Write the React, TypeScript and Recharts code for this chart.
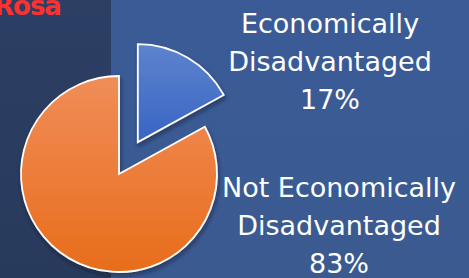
import React from "react";
import { PieChart, Pie, Cell, Sector } from "recharts";

const categories = ["Not Economically Disadvantaged", "Economically Disadvantaged"];
const shares = [83, 17];
const fills = ["url(#gOrange)", "url(#gBlue)"];
const exploded = [false, true];

const data = categories.map((name, i) => ({ name, value: shares[i] }));

const RAD = Math.PI / 180;

const SliceShape = (props: any) => {
  const { cx, cy, midAngle, index } = props;
  const off = exploded[index] ? 37 : 0;
  const dx = off * Math.cos(-midAngle * RAD);
  const dy = off * Math.sin(-midAngle * RAD);
  return <Sector {...props} cx={cx + dx} cy={cy + dy} />;
};

const SliceLabel = ({ cx, cy, index, name, value }: any) => {
  const words = name.split(" ");
  const lines = [words.slice(0, -1).join(" "), words[words.length - 1], `${value}%`];
  const x = index === 1 ? cx + 211 : cx + 220;
  const y0 = index === 1 ? cy - 141 : cy + 23;
  return (
    <text
      x={x}
      y={y0}
      textAnchor="middle"
      fill="#ffffff"
      fontFamily="'DejaVu Sans', sans-serif"
      fontSize={27}
    >
      {lines.map((l, i) => (
        <tspan key={i} x={x} y={y0 + i * 38}>
          {l}
        </tspan>
      ))}
    </text>
  );
};

export default function App() {
  return (
    <div
      style={{
        position: "absolute",
        left: 0,
        top: 0,
        width: 469,
        height: 278,
        overflow: "hidden",
        background: "linear-gradient(180deg, #3b5b97 0%, #3a5a90 100%)",
      }}
    >
      <div
        style={{
          position: "absolute",
          left: 0,
          top: 0,
          width: 111,
          height: 278,
          background: "linear-gradient(180deg, #2c3f64 0%, #283a5c 100%)",
        }}
      />
      <div
        style={{
          position: "absolute",
          left: -6,
          top: -9,
          color: "#ff3030",
          fontFamily: "'DejaVu Sans', sans-serif",
          fontWeight: "bold",
          fontSize: 26,
          lineHeight: "30px",
          letterSpacing: -1,
        }}
      >
        Rosa
      </div>
      <div style={{ position: "absolute", left: 0, top: 0 }}>
        <PieChart width={469} height={278} margin={{ top: 0, right: 0, bottom: 0, left: 0 }}>
          <defs>
            <linearGradient id="gOrange" x1="0" y1="0" x2="0" y2="1">
              <stop offset="0%" stopColor="#f08d58" />
              <stop offset="100%" stopColor="#e86d1b" />
            </linearGradient>
            <linearGradient id="gBlue" x1="0" y1="0" x2="0" y2="1">
              <stop offset="0%" stopColor="#5e83ce" />
              <stop offset="100%" stopColor="#3765c3" />
            </linearGradient>
            <filter id="shadow" x="-20%" y="-20%" width="140%" height="140%">
              <feDropShadow dx="1" dy="3" stdDeviation="2" floodColor="#0a1428" floodOpacity="0.5" />
            </filter>
          </defs>
          <Pie
            data={data}
            dataKey="value"
            nameKey="name"
            cx={119}
            cy={174}
            outerRadius={98}
            startAngle={90}
            endAngle={450}
            stroke="#ffffff"
            strokeWidth={1.8}
            shape={SliceShape}
            label={SliceLabel}
            labelLine={false}
            isAnimationActive={false}
            style={{ filter: "url(#shadow)" }}
          >
            {data.map((d, i) => (
              <Cell key={d.name} fill={fills[i]} />
            ))}
          </Pie>
        </PieChart>
      </div>
    </div>
  );
}
